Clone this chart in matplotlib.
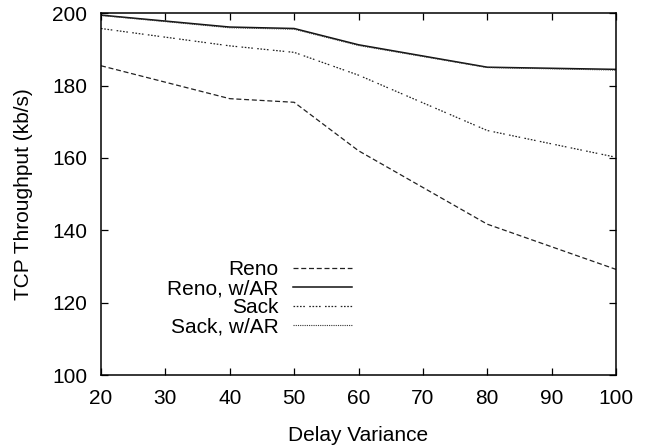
import matplotlib
matplotlib.use("Agg")
import matplotlib.pyplot as plt

plt.rcParams['font.family'] = ['Liberation Sans', 'DejaVu Sans']

delay = [20, 40, 50, 60, 80, 100]
reno = [185.5, 176.4, 175.4, 162.0, 141.7, 129.2]
reno_ar = [199.5, 196.2, 195.8, 191.3, 185.1, 184.5]
sack = [195.8, 191.0, 189.2, 182.9, 167.6, 160.2]
sack_ar = [199.4, 196.0, 195.6, 191.1, 185.0, 184.3]

labels = ['Reno', 'Reno, w/AR', 'Sack', 'Sack, w/AR']
xticks = [20, 30, 40, 50, 60, 70, 80, 90, 100]
yticks = [100, 120, 140, 160, 180, 200]

fs = 15

fig = plt.figure(figsize=(6.5, 4.45), dpi=100)
ax = fig.add_axes([0.1554, 0.1573, 0.7923, 0.8128])

ax.plot(delay, reno, color='#222222', lw=0.9, dashes=(4, 2.2), label=labels[0])
ax.plot(delay, reno_ar, color='#111111', lw=1.1, label=labels[1])
ax.plot(delay, sack, color='#222222', lw=0.9,
        dashes=(1.3, 1.3, 1.3, 1.3, 1.3, 1.3, 1.3, 3.5), label=labels[2])
ax.plot(delay, sack_ar, color='#333333', lw=0.8, dashes=(1, 1), label=labels[3])

ax.set_xlim(20, 100)
ax.set_ylim(100, 200)
ax.set_xticks(xticks)
ax.set_yticks(yticks)
ax.tick_params(direction='in', length=5, width=0.9, top=True, right=True,
               labelsize=fs)
ax.tick_params(axis='x', pad=10)
ax.tick_params(axis='y', pad=10)
for s in ax.spines.values():
    s.set_linewidth(1.1)

ax.set_xlabel('Delay Variance', fontsize=fs, labelpad=13)
ax.set_ylabel('TCP Throughput (kb/s)', fontsize=fs, labelpad=14)

# markerfirst=False right-aligns rows, so labels end flush against the samples
ax.legend(loc='upper right', bbox_to_anchor=(0.507, 0.346), frameon=False,
          markerfirst=False, fontsize=fs, handlelength=2.8,
          handletextpad=0.7, labelspacing=0.0, borderpad=0.0)

fig.savefig('out.png', dpi=100)
